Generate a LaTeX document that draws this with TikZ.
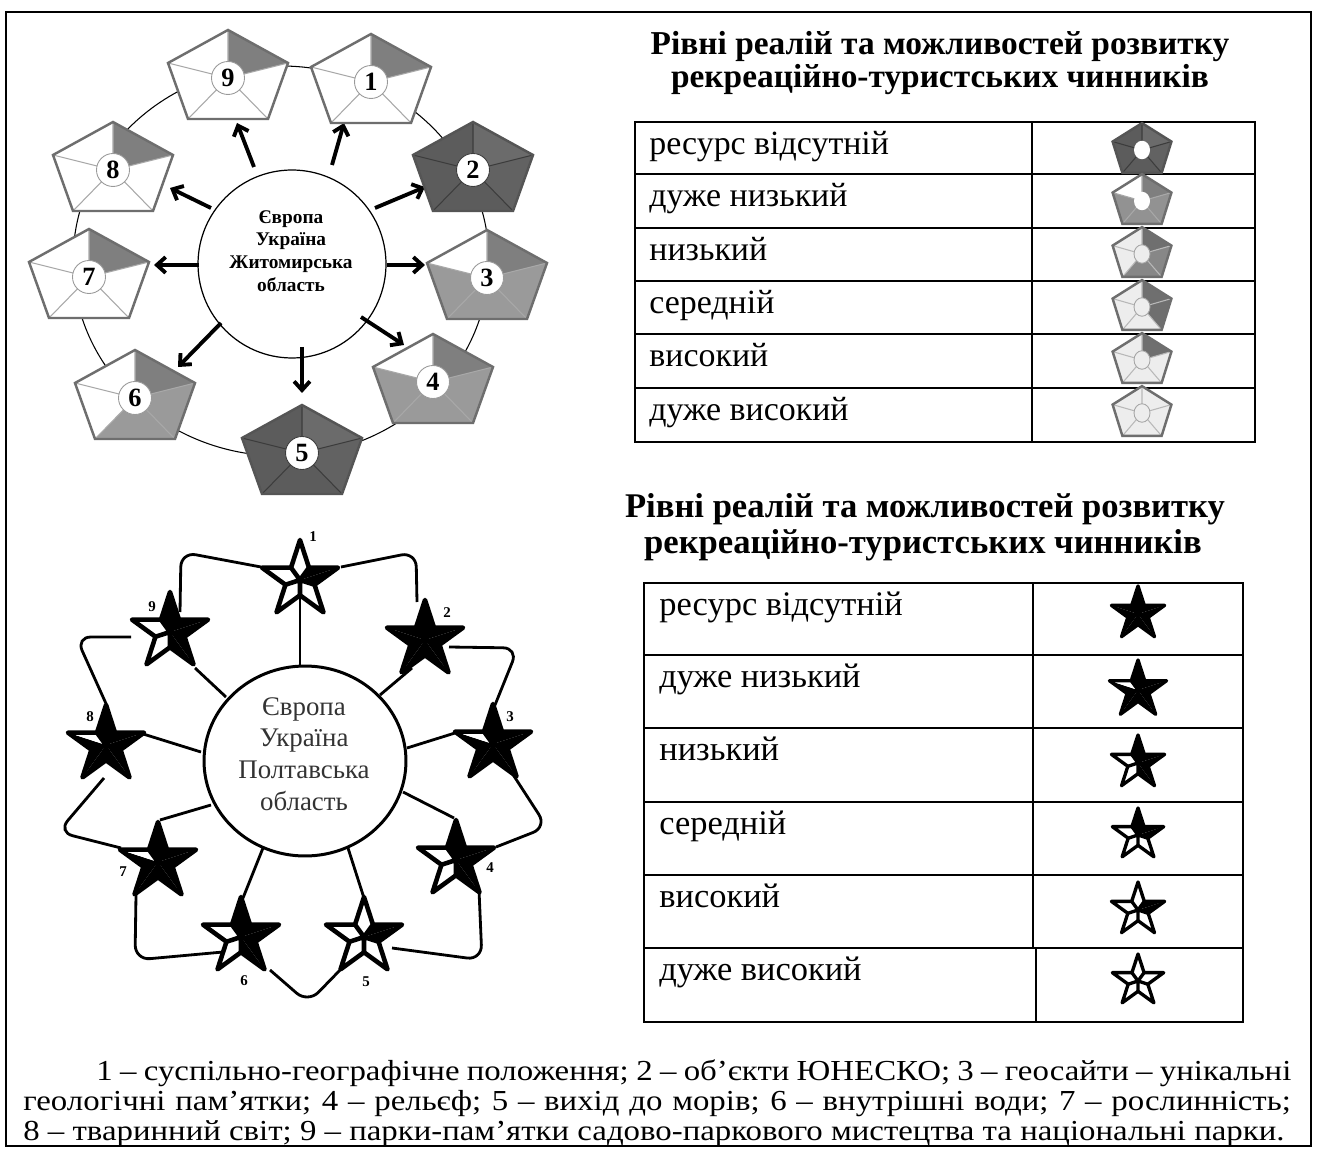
\documentclass[tikz,border=0pt]{standalone}
\usepackage{fontspec}
\setmainfont{Liberation Serif}
\usetikzlibrary{arrows.meta,shapes.geometric}
\definecolor{ptop}{HTML}{7F7F7F}
\definecolor{pmid}{HTML}{9A9A9A}
\definecolor{pline}{HTML}{A8A8A8}
\definecolor{pborder}{HTML}{6E6E6E}
\definecolor{dka}{HTML}{6B6B6B}
\definecolor{dkb}{HTML}{626262}
\definecolor{dkc}{HTML}{5C5C5C}
\definecolor{dkline}{HTML}{3C3C3C}
\definecolor{dkborder}{HTML}{555555}
\definecolor{lgdark}{HTML}{6F6F6F}
\definecolor{lgmid}{HTML}{878787}
\definecolor{lgmid2}{HTML}{929292}
\definecolor{lglight}{HTML}{EDEDED}
\definecolor{lgline}{HTML}{B8B8B8}
\definecolor{stxt}{HTML}{333333}
% pentagon: #1 centre, #2 transform, #3..#7 sector fills, #8 inner line colour, #9 border colour
\newcommand{\pentshape}[9]{%
\begin{scope}[shift={#1},#2]
 \coordinate (PT) at (0,-48); \coordinate (PR) at (60,-15); \coordinate (PBR) at (40,41);
 \coordinate (PBL) at (-40,41); \coordinate (PL) at (-60,-15); \coordinate (PO) at (0,0);
 \fill[#3] (PO)--(PT)--(PR)--cycle;
 \fill[#4] (PO)--(PR)--(PBR)--cycle;
 \fill[#5] (PO)--(PBR)--(PBL)--cycle;
 \fill[#6] (PO)--(PBL)--(PL)--cycle;
 \fill[#7] (PO)--(PL)--(PT)--cycle;
 \draw[#8, line width=0.6pt] (PO)--(PT) (PO)--(PR) (PO)--(PBR) (PO)--(PBL) (PO)--(PL);
 \draw[#9, line width=1.4pt, line join=miter] (PT)--(PR)--(PBR)--(PBL)--(PL)--cycle;
\end{scope}}
% star: #1 centre, #2 outer radius, #3 pattern, #4 line width
\newcommand{\bstar}[4]{%
\begin{scope}[shift={#1},yscale=-1]
 \pgfmathsetmacro\srin{0.382*#2}
 \foreach \k/\cl/\cr in #3 {
   \fill[\cl] (0,0) -- ({126-72*\k}:\srin) -- ({90-72*\k}:#2) -- cycle;
   \fill[\cr] (0,0) -- ({90-72*\k}:#2) -- ({54-72*\k}:\srin) -- cycle;
 }
 \draw[line width=#4, line join=round] (90:#2) -- (54:\srin) -- (18:#2) -- (-18:\srin) -- (-54:#2) -- (-90:\srin) -- (-126:#2) -- (-162:\srin) -- (-198:#2) -- (-234:\srin) -- cycle;
 \draw[line width=#4, line cap=round] (0,0) -- (54:\srin) (0,0) -- (-18:\srin) (0,0) -- (-90:\srin) (0,0) -- (-162:\srin) (0,0) -- (-234:\srin);
\end{scope}}
\def\SPnone{0/black/black,1/black/black,2/black/black,3/black/black,4/black/black}
\def\SPvlow{0/black/black,1/black/black,2/black/black,3/black/black,4/black/white}
\def\SPlow{0/black/black,1/black/black,2/black/black,3/white/white,4/white/white}
\def\SPmid{0/black/black,1/black/black,2/white/white,3/white/white,4/white/white}
\def\SPhigh{0/white/white,1/black/black,2/white/white,3/white/white,4/white/white}
\def\SPvhigh{0/white/white,1/white/white,2/white/white,3/white/white,4/white/white}
\begin{document}
\begin{tikzpicture}[x=0.02cm,y=-0.02cm]
\tikzset{
 numc/.style={circle, draw=black!40, line width=0.5pt, fill=white, minimum size=0.66cm, inner sep=0pt, font=\fontsize{15}{15}\selectfont\bfseries},
 arr/.style={line width=2.2pt, -{Straight Barb[length=5pt,width=9pt]}},
 tabtext/.style={anchor=base west, inner sep=0pt, font=\fontsize{19.3}{22}\selectfont},
 titletext/.style={anchor=base, inner sep=0pt, font=\fontsize{19}{20}\selectfont\bfseries},
 loopline/.style={line width=1.6pt, rounded corners=0.3cm},
 spoke/.style={line width=1.6pt},
 slabel/.style={font=\fontsize{8.5}{9}\selectfont\bfseries, inner sep=0pt},
 tabline/.style={line width=1.2pt},
 hole/.style={ellipse, minimum width=0.32cm, minimum height=0.37cm, inner sep=0pt},
 bodytext/.style={anchor=base west, inner sep=0pt, font=\fontsize{16.5}{18}\selectfont},
}
\useasboundingbox (0,0) rectangle (1317,1151);
\fill[white] (0,0) rectangle (1317,1151);
\draw[line width=1.1pt] (6,12) rectangle (1311,1146);

% ================= pentagon diagram =================
\draw[line width=0.6pt] (281,261) ellipse [x radius=208, y radius=195];
\node[circle, draw, line width=0.7pt, fill=white, minimum size=3.76cm, inner sep=0pt] (cc) at (292,264) {};
\node[align=center, inner sep=0pt, font=\fontsize{11}{12.9}\selectfont\bfseries] (ctext) at (291,251) {Європа\\Україна\\Житомирська\\область};

\coordinate (a1s) at (332,165); \coordinate (a1e) at (344,123);
\coordinate (a2s) at (375,208); \coordinate (a2e) at (425,187);
\coordinate (a3s) at (387,265); \coordinate (a3e) at (425,265);
\coordinate (a4s) at (361,317); \coordinate (a4e) at (404,345);
\coordinate (a5s) at (302,347); \coordinate (a5e) at (302,393);
\coordinate (a6s) at (221,323); \coordinate (a6e) at (178,367);
\coordinate (a7s) at (199,265); \coordinate (a7e) at (154,265);
\coordinate (a8s) at (211,208); \coordinate (a8e) at (170,188);
\coordinate (a9s) at (254,167); \coordinate (a9e) at (237,123);
\foreach \i in {1,...,9} \draw[arr] (a\i s) -- (a\i e);

\pentshape{(371,82)}{}{ptop}{white}{white}{white}{white}{pline}{pborder}
\pentshape{(473,170)}{}{dka}{dkb}{dkc}{dkc}{dkc}{dkline}{dkborder}
\pentshape{(487,278)}{}{ptop}{pmid}{pmid}{pmid}{white}{pline}{pborder}
\pentshape{(433,382)}{}{ptop}{pmid}{pmid}{pmid}{white}{pline}{pborder}
\pentshape{(302,453)}{}{dka}{dkb}{dkc}{dkc}{dkc}{dkline}{dkborder}
\pentshape{(135,398)}{}{ptop}{pmid}{pmid}{white}{white}{pline}{pborder}
\pentshape{(89,277)}{}{ptop}{white}{white}{white}{white}{pline}{pborder}
\pentshape{(113,170)}{}{ptop}{white}{white}{white}{white}{pline}{pborder}
\pentshape{(228,78)}{}{ptop}{white}{white}{white}{white}{pline}{pborder}
\node[numc] (n1) at (371,82) {1};
\node[numc, draw=dkline] (n2) at (473,170) {2};
\node[numc] (n3) at (487,278) {3};
\node[numc] (n4) at (433,382) {4};
\node[numc, draw=dkline] (n5) at (302,453) {5};
\node[numc] (n6) at (135,398) {6};
\node[numc] (n7) at (89,277) {7};
\node[numc] (n8) at (113,170) {8};
\node[numc] (n9) at (228,78) {9};

% ================= title 1 and pentagon table =================
\node[titletext] (t1a) at (940,55) {Рівні реалій та можливостей розвитку};
\node[titletext] (t1b) at (940,88) {рекреаційно-туристських чинників};
\draw[tabline] (635,122) rectangle (1255,442);
\foreach \yy in {174,228,281,334,388} \draw[tabline] (635,\yy) -- (1255,\yy);
\draw[tabline] (1032,122) -- (1032,442);
\node[tabtext] (r1) at (649,155) {ресурс відсутній};
\node[tabtext] (r2) at (649,207) {дуже низький};
\node[tabtext] (r3) at (649,261) {низький};
\node[tabtext] (r4) at (649,314) {середній};
\node[tabtext] (r5) at (649,367) {високий};
\node[tabtext] (r6) at (649,421) {дуже високий};
\pentshape{(1142,150)}{xscale=0.49,yscale=0.56}{dka}{dkb}{dkc}{dkc}{dkc}{dkline}{dkborder}
\pentshape{(1142,201)}{xscale=0.49,yscale=0.56}{ptop}{lgmid2}{lgmid2}{lgmid2}{white}{pline}{pborder}
\pentshape{(1142,254)}{xscale=0.49,yscale=0.56}{lgdark}{lgmid}{lgmid}{lglight}{lglight}{lgline}{pborder}
\pentshape{(1142,307)}{xscale=0.49,yscale=0.56}{lgdark}{lgdark}{lglight}{lglight}{lglight}{lgline}{pborder}
\pentshape{(1142,360)}{xscale=0.49,yscale=0.56}{lgdark}{lglight}{lglight}{lglight}{lglight}{lgline}{pborder}
\pentshape{(1142,413)}{xscale=0.49,yscale=0.56}{lglight}{lglight}{lglight}{lglight}{lglight}{lgline}{pborder}
\node[hole, fill=white] (h1) at (1142,150) {};
\node[hole, fill=white] (h2) at (1142,201) {};
\node[hole, fill=lglight, draw=black!35, line width=0.5pt] (h3) at (1142,254) {};
\node[hole, fill=lglight, draw=black!35, line width=0.5pt] (h4) at (1142,307) {};
\node[hole, fill=lglight, draw=black!35, line width=0.5pt] (h5) at (1142,360) {};
\node[hole, fill=lglight, draw=black!35, line width=0.5pt] (h6) at (1142,413) {};

% ================= star diagram =================
\node[ellipse, draw, line width=1.7pt, minimum width=4.04cm, minimum height=3.8cm, inner sep=0pt] (sc) at (305,761) {};
\node[align=center, inner sep=0pt, text=stxt, font=\fontsize{15.3}{18.1}\selectfont] (stext) at (304,754) {Європа\\Україна\\Полтавська\\область};

\coordinate (s1a) at (300,667); \coordinate (s1b) at (300,590);
\coordinate (s2a) at (380,695); \coordinate (s2b) at (412,668);
\coordinate (s3a) at (407,748); \coordinate (s3b) at (455,733);
\coordinate (s4a) at (403,792); \coordinate (s4b) at (454,818);
\coordinate (s5a) at (348,848); \coordinate (s5b) at (364,898);
\coordinate (s6a) at (263,848); \coordinate (s6b) at (243,898);
\coordinate (s7a) at (211,805); \coordinate (s7b) at (160,820);
\coordinate (s8a) at (201,752); \coordinate (s8b) at (140,733);
\coordinate (s9a) at (226,697); \coordinate (s9b) at (195,668);
\foreach \i in {1,...,9} \draw[spoke] (s\i a) -- (s\i b);

\coordinate (q19a) at (261,567); \coordinate (q19c) at (181,552); \coordinate (q19b) at (180,612);
\coordinate (q12a) at (341,567); \coordinate (q12c) at (416,552); \coordinate (q12b) at (417,602);
\coordinate (q23a) at (449,647); \coordinate (q23c) at (518,648); \coordinate (q23b) at (495,705);
\coordinate (q34a) at (512,773); \coordinate (q34c) at (547,827); \coordinate (q34b) at (496,847);
\coordinate (q45a) at (479,890); \coordinate (q45c) at (482,960); \coordinate (q45b) at (392,948);
\coordinate (q56a) at (343,967); \coordinate (q56c) at (308,1003); \coordinate (q56b) at (270,970);
\coordinate (q67a) at (223,952); \coordinate (q67c) at (135,960); \coordinate (q67b) at (136,895);
\coordinate (q78a) at (121,848); \coordinate (q78c) at (58,832); \coordinate (q78b) at (104,778);
\coordinate (q89a) at (131,637); \coordinate (q89c) at (76,637); \coordinate (q89b) at (108,708);
\foreach \p in {19,12,23,34,45,56,67,78,89} \draw[loopline] (q\p a) -- (q\p c) -- (q\p b);

\bstar{(300,580)}{40}{\SPhigh}{2.6pt}
\bstar{(425,640)}{40}{\SPnone}{2.6pt}
\bstar{(493,744)}{40}{\SPvlow}{2.6pt}
\bstar{(456,860)}{40}{\SPlow}{2.6pt}
\bstar{(364,937)}{40}{\SPhigh}{2.6pt}
\bstar{(241,937)}{40}{\SPlow}{2.6pt}
\bstar{(158,862)}{40}{\SPvlow}{2.6pt}
\bstar{(106,745)}{40}{\SPvlow}{2.6pt}
\bstar{(170,632)}{40}{\SPlow}{2.6pt}
\node[slabel] (l1) at (313,537) {1};
\node[slabel] (l2) at (447,613) {2};
\node[slabel] (l3) at (510,717) {3};
\node[slabel] (l4) at (490,868) {4};
\node[slabel] (l5) at (366,982) {5};
\node[slabel] (l6) at (244,981) {6};
\node[slabel] (l7) at (123,872) {7};
\node[slabel] (l8) at (90,717) {8};
\node[slabel] (l9) at (152,607) {9};

% ================= title 2 and star table =================
\node[titletext, font=\fontsize{19.7}{20}\selectfont\bfseries] (t2a) at (925,518) {Рівні реалій та можливостей розвитку};
\node[titletext, font=\fontsize{19.7}{20}\selectfont\bfseries] (t2b) at (923,553) {рекреаційно-туристських чинників};
\draw[tabline] (644,583) rectangle (1243,1022);
\foreach \yy in {655,728,802,875,948} \draw[tabline] (644,\yy) -- (1243,\yy);
\draw[tabline] (1033,583) -- (1033,948);
\draw[tabline] (1036,948) -- (1036,1022);
\node[tabtext, font=\fontsize{19.6}{22}\selectfont] (u1) at (659,615) {ресурс відсутній};
\node[tabtext, font=\fontsize{19.6}{22}\selectfont] (u2) at (659,687) {дуже низький};
\node[tabtext, font=\fontsize{19.6}{22}\selectfont] (u3) at (659,760) {низький};
\node[tabtext, font=\fontsize{19.6}{22}\selectfont] (u4) at (659,834) {середній};
\node[tabtext, font=\fontsize{19.6}{22}\selectfont] (u5) at (659,907) {високий};
\node[tabtext, font=\fontsize{19.6}{22}\selectfont] (u6) at (659,980) {дуже високий};
\bstar{(1138,614)}{28}{\SPnone}{1.9pt}
\bstar{(1138,690)}{30}{\SPvlow}{1.9pt}
\bstar{(1138,763)}{28}{\SPlow}{1.9pt}
\bstar{(1138,835)}{27}{\SPmid}{1.9pt}
\bstar{(1138,910)}{28}{\SPhigh}{1.9pt}
\bstar{(1138,981)}{27}{\SPvhigh}{1.9pt}

% ================= caption =================
\node[bodytext] (c1) at (96,1080) {\scalebox{1.133}[1]{\makebox[21.1cm][s]{1 – суспільно-географічне положення; 2 – об’єкти ЮНЕСКО; 3 – геосайти – унікальні}}};
\node[bodytext] (c2) at (23,1110) {\scalebox{1.133}[1]{\makebox[22.38cm][s]{геологічні пам’ятки; 4 – рельєф; 5 – вихід до морів; 6 – внутрішні води; 7 – рослинність;}}};
\node[bodytext] (c3) at (23,1140) {\scalebox{1.133}[1]{8 – тваринний світ; 9 – парки-пам’ятки садово-паркового мистецтва та національні парки.}};
\end{tikzpicture}
\end{document}
